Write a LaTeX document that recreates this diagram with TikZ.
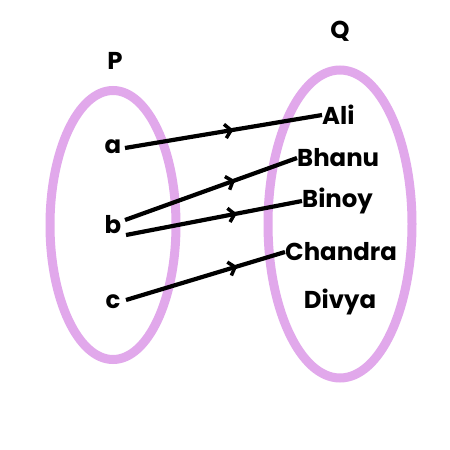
\documentclass[tikz,border=0pt]{standalone}
\usepackage{fontspec}
\setmainfont{Poppins}
\usetikzlibrary{arrows.meta,decorations.markings}
\definecolor{setpink}{RGB}{225,168,235}
\tikzset{
  setring/.style={draw=setpink,line width=9pt},
  lbl/.style={font=\fontsize{24.4}{26}\selectfont\bfseries,inner sep=0pt},
  maparrow/.style={line width=4.2pt,postaction={decorate},
    decoration={markings,mark=at position #1 with {\arrow[line width=3.5pt]{Straight Barb[length=6pt,width=14pt]}}}}
}
\begin{document}
\begin{tikzpicture}[x=1pt,y=-1pt]
\useasboundingbox[fill=white] (0,0) rectangle (450,450);
\draw[setring] (113,225) ellipse [x radius=63,y radius=134.5];
\draw[setring] (340,224) ellipse [x radius=72,y radius=154];
\node[lbl] (P) at (115,61) {P};
\node[lbl] (Q) at (340,31) {Q};
\node[lbl] (a) at (113,147) {a};
\node[lbl] (b) at (113,225) {b};
\node[lbl] (c) at (113,302) {c};
\node[lbl,anchor=west] (ali) at (322,115) {Ali};
\node[lbl,anchor=west] (bhanu) at (297,158) {Bhanu};
\node[lbl,anchor=west] (binoy) at (302,201) {Binoy};
\node[lbl,anchor=west] (chandra) at (285,252) {Chandra};
\node[lbl] (divya) at (340,302) {Divya};
\coordinate (as) at (125,148);
\coordinate (bs1) at (125,220);
\coordinate (bs2) at (126,235);
\coordinate (cs) at (126,300);
\draw[maparrow=0.55] (as) -- (ali.west);
\draw[maparrow=0.64] (bs1) -- (bhanu.west);
\draw[maparrow=0.63] (bs2) -- (binoy.west);
\draw[maparrow=0.70] (cs) -- (chandra.west);
\end{tikzpicture}
\end{document}
